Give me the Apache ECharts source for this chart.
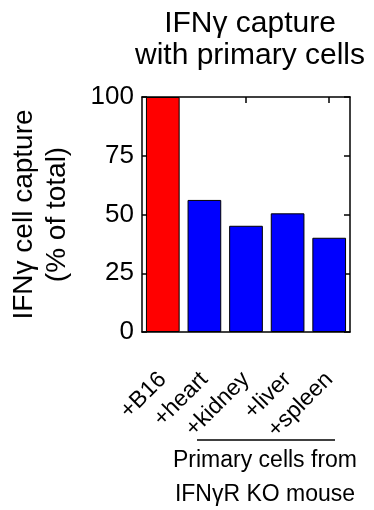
<!DOCTYPE html>
<html>
<head>
<meta charset="utf-8">
<script src="https://cdn.jsdelivr.net/npm/echarts@6/dist/echarts.min.js"></script>
<style>
html,body{margin:0;padding:0;background:#fff;}
#c{width:374px;height:510px;}
</style>
</head>
<body>
<div id="c"></div>
<script>
// Data
const categories = ['+B16', '+heart', '+kidney', '+liver', '+spleen'];
const captureValues = [100, 56.2, 45.2, 50.5, 40.1];
const barColors = ['#ff0000', '#0000ff', '#0000ff', '#0000ff', '#0000ff'];
const yTicks = [0, 25, 50, 75, 100];

const FONT = '"Liberation Sans", Arial, sans-serif';
const chart = echarts.init(document.getElementById('c'), null, {renderer: 'canvas'});

const lineStyle = {color: '#000', width: 1.5};

chart.setOption({
  animation: false,
  backgroundColor: '#fff',
  title: {
    text: 'IFNγ capture\nwith primary cells',
    left: 245,
    top: 3,
    textAlign: 'center',
    textStyle: {fontFamily: FONT, fontSize: 30, fontWeight: 'normal', color: '#000', lineHeight: 32}
  },
  grid: {left: 140, right: 24, top: 97, bottom: 178},
  xAxis: [{
    type: 'category',
    data: categories,
    position: 'bottom',
    axisLine: {onZero: false, lineStyle: lineStyle},
    axisTick: {show: false},
    axisLabel: {rotate: 45, margin: 44, fontFamily: FONT, fontSize: 23, color: '#000', interval: 0}
  }, {
    type: 'category',
    data: categories,
    position: 'top',
    axisLine: {onZero: false, lineStyle: lineStyle},
    axisTick: {show: true, inside: true, alignWithLabel: true, length: 6, lineStyle: lineStyle},
    axisLabel: {show: false}
  }],
  yAxis: [{
    type: 'value',
    min: 0, max: 100, interval: 25,
    position: 'left',
    name: 'IFNγ cell capture\n(% of total)',
    nameLocation: 'middle',
    nameGap: 68,
    nameTextStyle: {fontFamily: FONT, fontSize: 28, color: '#000', lineHeight: 33},
    axisLine: {show: true, onZero: false, lineStyle: lineStyle},
    axisTick: {show: true, inside: true, length: 5, lineStyle: lineStyle},
    axisLabel: {margin: 8, fontFamily: FONT, fontSize: 26, color: '#000',
      formatter: v => yTicks.includes(v) ? String(v) : ''},
    splitLine: {show: false}
  }, {
    type: 'value',
    min: 0, max: 100, interval: 25,
    position: 'right',
    axisLine: {show: true, onZero: false, lineStyle: lineStyle},
    axisTick: {show: true, inside: true, length: 6, lineStyle: lineStyle},
    axisLabel: {show: false},
    splitLine: {show: false}
  }],
  series: [{
    type: 'bar',
    data: captureValues.map((v, i) => ({value: v, itemStyle: {color: barColors[i]}})),
    barCategoryGap: '19%',
    itemStyle: {borderColor: '#000', borderWidth: 1}
  }],
  graphic: [
    {type: 'line', shape: {x1: 197, y1: 440, x2: 335, y2: 440}, style: {stroke: '#000', lineWidth: 1.5}},
    {type: 'text', style: {
      x: 265, y: 449, text: 'Primary cells from', fontFamily: FONT, fontSize: 23, fill: '#000',
      textAlign: 'center', verticalAlign: 'top'}},
    {type: 'text', style: {
      x: 265, y: 483, text: 'IFNγR KO mouse', fontFamily: FONT, fontSize: 23, fill: '#000',
      textAlign: 'center', verticalAlign: 'top'}}
  ]
});
</script>
</body>
</html>
